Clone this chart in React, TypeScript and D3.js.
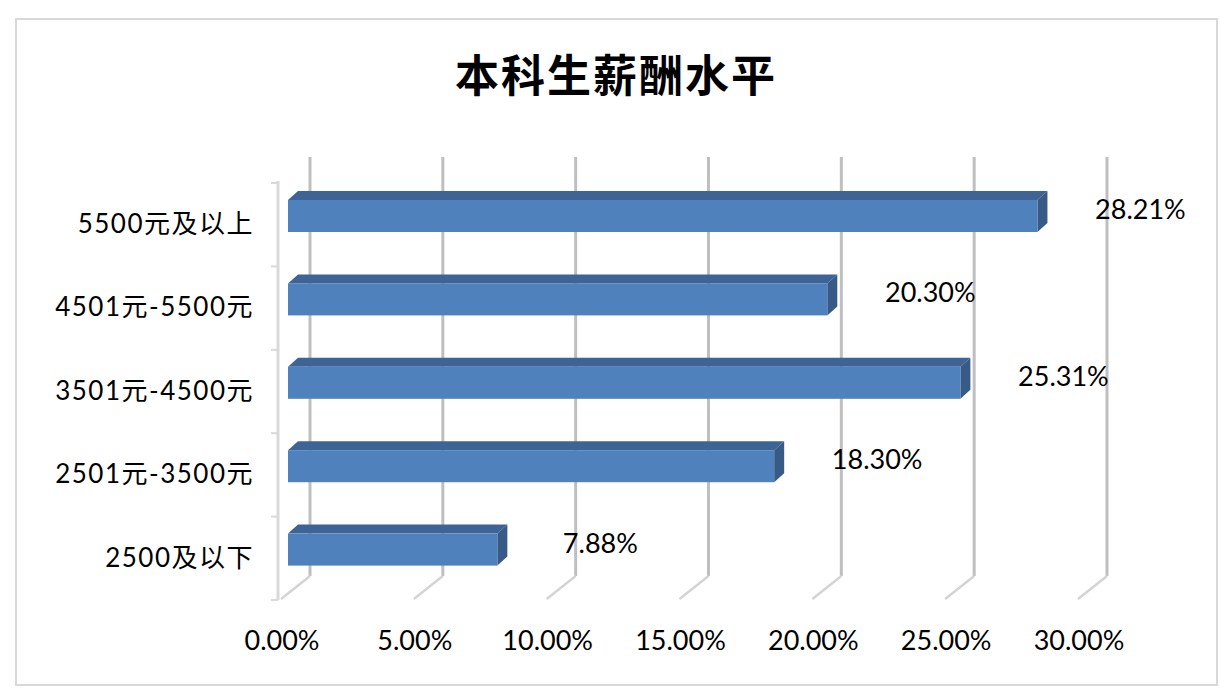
import { useEffect, useRef } from "react";
import * as d3 from "d3";

// categories top -> bottom, values are shares
const categories = [
  "5500元及以上",
  "4501元-5500元",
  "3501元-4500元",
  "2501元-3500元",
  "2500及以下",
];
const shares = [0.2821, 0.203, 0.2531, 0.183, 0.0788];
const tickValues = [0, 0.05, 0.1, 0.15, 0.2, 0.25, 0.3];

const WIDTH = 1232;
const HEIGHT = 695;
const FONT = "Lato, 'Noto Sans CJK SC', sans-serif";

function App() {
  const ref = useRef<SVGSVGElement | null>(null);

  useEffect(() => {
    if (!ref.current) return;
    const svg = d3.select(ref.current);
    svg.selectAll("*").remove();

    // back wall x scale
    const x = d3.scaleLinear().domain([0, 0.3]).range([310, 1107]);
    const y = d3.scaleBand<string>().domain(categories).range([183, 600]).padding(0);

    const wallTop = 157;
    const wallBottom = 576;
    const floorDx = -29;
    const floorDy = 23;
    const frontShift = -22; // bar front face relative to back wall
    const depthX = 10;
    const depthY = -9;
    const barH = 32;

    // chart border
    svg
      .append("rect")
      .attr("x", 16)
      .attr("y", 19)
      .attr("width", 1201)
      .attr("height", 666)
      .attr("fill", "#fff")
      .attr("stroke", "#d9d9d9")
      .attr("stroke-width", 2);

    // title
    svg
      .append("text")
      .attr("x", 616)
      .attr("y", 92)
      .attr("text-anchor", "middle")
      .attr("font-family", "'Noto Sans CJK SC', sans-serif")
      .attr("font-weight", 700)
      .attr("font-size", 44)
      .attr("letter-spacing", 2)
      .text("本科生薪酬水平");

    // back wall gridlines + floor lines
    const grid = svg.append("g");
    grid
      .selectAll("line.wall")
      .data(tickValues)
      .join("line")
      .attr("class", "wall")
      .attr("x1", (d) => x(d))
      .attr("x2", (d) => x(d))
      .attr("y1", wallTop)
      .attr("y2", wallBottom)
      .attr("stroke", "#bfbfbf")
      .attr("stroke-width", 3);
    grid
      .selectAll("line.floor")
      .data(tickValues)
      .join("line")
      .attr("class", "floor")
      .attr("x1", (d) => x(d))
      .attr("x2", (d) => x(d) + floorDx)
      .attr("y1", wallBottom)
      .attr("y2", wallBottom + floorDy)
      .attr("stroke", "#d4d4d4")
      .attr("stroke-width", 2.5);

    // category axis
    const axisX = 278;
    svg
      .append("line")
      .attr("x1", axisX)
      .attr("x2", axisX)
      .attr("y1", 181)
      .attr("y2", 600)
      .attr("stroke", "#d9d9d9")
      .attr("stroke-width", 3);
    const bounds = categories.map((c) => y(c) as number).concat([600]);
    svg
      .selectAll("line.tick")
      .data(bounds)
      .join("line")
      .attr("class", "tick")
      .attr("x1", axisX - 7)
      .attr("x2", axisX)
      .attr("y1", (d) => d)
      .attr("y2", (d) => d)
      .attr("stroke", "#d9d9d9")
      .attr("stroke-width", 2);

    svg
      .selectAll("text.cat")
      .data(categories)
      .join("text")
      .attr("class", "cat")
      .attr("x", 254)
      .attr("y", (d) => (y(d) as number) + 50)
      .attr("text-anchor", "end")
      .attr("font-family", FONT)
      .attr("font-size", 26)
      .attr("letter-spacing", 1.5)
      .attr("fill", "#000")
      .text((d) => d);

    // bars (front, top, side)
    const bars = svg
      .selectAll("g.bar")
      .data(categories.map((c, i) => ({ c, v: shares[i] })))
      .join("g")
      .attr("class", "bar");

    const fx0 = x(0) + frontShift;
    bars
      .append("path")
      .attr("fill", "#3e6496")
      .attr("d", (d) => {
        const yt = (y(d.c) as number) + 17;
        const fx1 = x(d.v) + frontShift;
        return `M${fx0},${yt}L${fx0 + depthX},${yt + depthY}L${fx1 + depthX},${yt + depthY}L${fx1},${yt}Z`;
      });
    bars
      .append("path")
      .attr("fill", "#385a86")
      .attr("d", (d) => {
        const yt = (y(d.c) as number) + 17;
        const fx1 = x(d.v) + frontShift;
        return `M${fx1},${yt}L${fx1 + depthX},${yt + depthY}L${fx1 + depthX},${yt + depthY + barH}L${fx1},${yt + barH}Z`;
      });
    bars
      .append("rect")
      .attr("fill", "#4f81bd")
      .attr("x", fx0)
      .attr("y", (d) => (y(d.c) as number) + 17)
      .attr("width", (d) => x(d.v) - x(0))
      .attr("height", barH);

    // data labels
    svg
      .selectAll("text.val")
      .data(categories.map((c, i) => ({ c, v: shares[i] })))
      .join("text")
      .attr("class", "val")
      .attr("x", (d) => x(d.v) + frontShift + 103)
      .attr("y", (d) => (y(d.c) as number) + 17 + barH / 2 + 3)
      .attr("text-anchor", "middle")
      .attr("font-family", FONT)
      .attr("font-size", 27)
      .attr("fill", "#000")
      .text((d) => `${(d.v * 100).toFixed(2)}%`);

    // value axis labels on the floor front edge
    svg
      .selectAll("text.xt")
      .data(tickValues)
      .join("text")
      .attr("class", "xt")
      .attr("x", (d) => x(d) - 28)
      .attr("y", 650)
      .attr("text-anchor", "middle")
      .attr("font-family", FONT)
      .attr("font-size", 27)
      .attr("fill", "#000")
      .text((d) => `${(d * 100).toFixed(2)}%`);
  }, []);

  return (
    <svg
      ref={ref}
      width={WIDTH}
      height={HEIGHT}
      style={{ position: "absolute", left: 0, top: 0 }}
      role="img"
      aria-label="本科生薪酬水平"
    />
  );
}

export default App;
